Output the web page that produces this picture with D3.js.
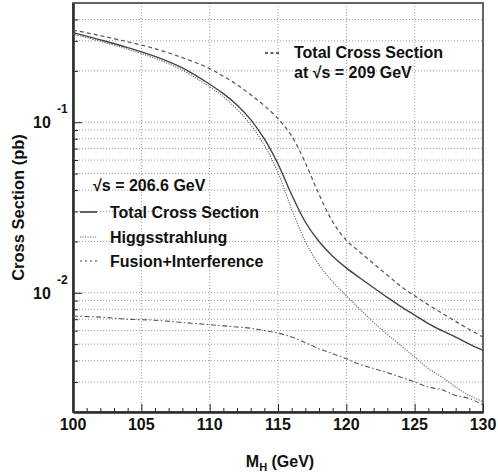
<!DOCTYPE html>
<html>
<head>
<meta charset="utf-8">
<script src="https://cdn.jsdelivr.net/npm/d3@7/dist/d3.min.js"></script>
<style>
  body { margin: 0; background: #fff; }
  text { font-family: "Liberation Sans", Arial, Helvetica, sans-serif; font-weight: bold; fill: #111; }
</style>
</head>
<body>
<script>
'use strict';

//Data =========================================

// Higgs mass points (GeV)
var massH = [100, 102, 104, 106, 108, 110, 111, 112, 113, 114, 115, 116, 117, 118, 119, 120,
             121, 122, 123, 124, 125, 126, 127, 128, 129, 130];

// sqrt(s) = 206.6 GeV, total cross section (pb)
var totalXsec206 = [0.335, 0.304, 0.274, 0.243, 0.208, 0.167, 0.147, 0.126, 0.1035, 0.0798, 0.0569, 0.0376,
                    0.0260, 0.0200, 0.0164, 0.0140, 0.0122, 0.0107, 0.0094, 0.0083, 0.0074, 0.0066,
                    0.0060, 0.0055, 0.0050, 0.0046];

// Higgsstrahlung only
var hzXsec = [0.329, 0.298, 0.268, 0.237, 0.202, 0.161, 0.141, 0.119, 0.0966, 0.0733, 0.0507, 0.0309,
              0.0200, 0.0146, 0.0116, 0.0096, 0.0080, 0.0067, 0.0057, 0.0049, 0.0042, 0.0036,
              0.0032, 0.0028, 0.0025, 0.0023];

// Fusion + interference
var fusionXsec = [0.0073, 0.0072, 0.0070, 0.0069, 0.0067, 0.0065, 0.0064, 0.0063, 0.0062, 0.0060, 0.0058,
                  0.0055, 0.0051, 0.0047, 0.0044, 0.0041, 0.0038, 0.0036, 0.0034, 0.0032, 0.0030,
                  0.0028, 0.0027, 0.0025, 0.0024, 0.0022];

// sqrt(s) = 209 GeV, total cross section
var totalXsec209 = [0.347, 0.322, 0.296, 0.270, 0.239, 0.2065, 0.186, 0.166, 0.145, 0.125, 0.105, 0.083,
                    0.0578, 0.0378, 0.0261, 0.0203, 0.0173, 0.0148, 0.0127, 0.0109, 0.0096, 0.0085,
                    0.0076, 0.0068, 0.0061, 0.0055];

var xTickValues = [100, 105, 110, 115, 120, 125, 130];
var yMajorValues = [0.01, 0.1];
var yMajorLabels = ['-2', '-1'];

//Sizing things.
var width = 498;
var height = 475;
var plotLeft = 73, plotRight = 483, plotTop = 3, plotBottom = 412;

var svg = d3.select('body').append('svg')
    .attr('width', width)
    .attr('height', height);

var x = d3.scaleLinear().domain([100, 130]).range([plotLeft, plotRight]);
var y = d3.scaleLog().domain([0.002, 0.5]).range([plotBottom, plotTop]);

// minor values on the log axis (2..9 x decade)
var yMinorValues = [];
[0.001, 0.01, 0.1].forEach(function (dec) {
  for (var k = 2; k <= 9; k++) {
    var v = +(k * dec).toPrecision(3);
    if (v > 0.002 && v < 0.5) yMinorValues.push(v);
  }
});
var xMinorValues = d3.range(101, 130).filter(function (m) { return m % 5 !== 0; });

// grid lines ===================
var grid = svg.append('g').attr('class', 'grid');

grid.selectAll('line.hgrid')
  .data(yMinorValues.concat(yMajorValues))
  .enter().append('line')
  .attr('x1', plotLeft).attr('x2', plotRight)
  .attr('y1', function (d) { return y(d); })
  .attr('y2', function (d) { return y(d); })
  .style('stroke', '#999')
  .style('stroke-width', 1)
  .style('stroke-dasharray', '1,2');

grid.selectAll('line.vgrid')
  .data([105, 110, 115, 120, 125])
  .enter().append('line')
  .attr('y1', plotTop).attr('y2', plotBottom)
  .attr('x1', function (d) { return x(d); })
  .attr('x2', function (d) { return x(d); })
  .style('stroke', '#999')
  .style('stroke-width', 1)
  .style('stroke-dasharray', '1,2');

// axes (ticks point into the frame)
function styleAxis(g, w) {
  g.selectAll('text').remove();
  g.selectAll('path.domain').style('stroke', '#222').style('stroke-width', w);
  g.selectAll('.tick line').style('stroke', '#222').style('stroke-width', 1);
}

svg.append('g')
  .attr('transform', 'translate(' + plotLeft + ',0)')
  .call(d3.axisLeft(y).tickValues(yMinorValues).tickSize(-5).tickSizeOuter(0).tickFormat(''))
  .call(styleAxis, 2);
svg.append('g')
  .attr('transform', 'translate(' + plotLeft + ',0)')
  .call(d3.axisLeft(y).tickValues(yMajorValues).tickSize(-9).tickSizeOuter(0).tickFormat(''))
  .call(styleAxis, 2);

svg.append('g')
  .attr('transform', 'translate(0,' + plotBottom + ')')
  .call(d3.axisBottom(x).tickValues(xMinorValues).tickSize(-4).tickSizeOuter(0).tickFormat(''))
  .call(styleAxis, 2);
svg.append('g')
  .attr('transform', 'translate(0,' + plotBottom + ')')
  .call(d3.axisBottom(x).tickValues(xTickValues).tickSize(-8).tickSizeOuter(0).tickFormat(''))
  .call(styleAxis, 2);

// top + right frame
svg.append('rect')
  .attr('x', plotLeft).attr('y', plotTop)
  .attr('width', plotRight - plotLeft).attr('height', plotBottom - plotTop)
  .style('fill', 'none')
  .style('stroke', '#333')
  .style('stroke-width', 1.5);

// tick labels
svg.selectAll('text.xlab')
  .data(xTickValues)
  .enter().append('text')
  .attr('x', function (d) { return x(d); })
  .attr('y', 430)
  .attr('text-anchor', 'middle')
  .style('font-size', '16px')
  .text(function (d) { return d; });

yMajorValues.forEach(function (v, i) {
  svg.append('text')
    .attr('x', 33).attr('y', y(v) + 6)
    .style('font-size', '16px')
    .text('10');
  svg.append('text')
    .attr('x', 57).attr('y', y(v) - 9)
    .style('font-size', '12px')
    .text(yMajorLabels[i]);
});

// axis titles
var xTitle = svg.append('text')
  .attr('x', (plotLeft + plotRight) / 2 + 2)
  .attr('y', 467)
  .attr('text-anchor', 'middle')
  .style('font-size', '16px');
xTitle.append('tspan').text('M');
xTitle.append('tspan').attr('dy', 4).style('font-size', '11px').text('H');
xTitle.append('tspan').attr('dy', -4).text(' (GeV)');

svg.append('text')
  .attr('transform', 'translate(24,' + ((plotTop + plotBottom) / 2) + ') rotate(-90)')
  .attr('text-anchor', 'middle')
  .style('font-size', '16.5px')
  .text('Cross Section (pb)');

// curves ======================
var curves = [
  { values: fusionXsec, dash: '5,2.5,1.5,2.5', color: '#555', w: 1.1 },
  { values: hzXsec, dash: '1.2,1.3', color: '#666', w: 1.1 },
  { values: totalXsec209, dash: '4,3', color: '#555', w: 1.2 },
  { values: totalXsec206, dash: null, color: '#444', w: 1.4 }
];

var line = d3.line()
  .x(function (d) { return x(d[0]); })
  .y(function (d) { return y(d[1]); })
  .curve(d3.curveCatmullRom.alpha(0.5));

curves.forEach(function (c) {
  svg.append('path')
    .datum(massH.map(function (m, i) { return [m, c.values[i]]; }))
    .attr('d', line)
    .style('fill', 'none')
    .style('stroke', c.color)
    .style('stroke-width', c.w)
    .style('stroke-dasharray', c.dash);
});

// legends ======================
svg.append('text')
  .attr('x', 93).attr('y', 191)
  .style('font-size', '16px')
  .text('\u221As = 206.6 GeV');

var legendItems = [
  { label: 'Total Cross Section', dash: null, y: 218, ly: 212, color: '#333', w: 1.5 },
  { label: 'Higgsstrahlung', dash: '1.2,1.3', y: 243, ly: 237, color: '#666', w: 1.1 },
  { label: 'Fusion+Interference', dash: '2,3', y: 267, ly: 261, color: '#444', w: 1.1 }
];

legendItems.forEach(function (it) {
  svg.append('line')
    .attr('x1', 80).attr('x2', 97)
    .attr('y1', it.ly).attr('y2', it.ly)
    .style('stroke', it.color)
    .style('stroke-width', it.w)
    .style('stroke-dasharray', it.dash);
  svg.append('text')
    .attr('x', 110).attr('y', it.y)
    .style('font-size', '16px')
    .text(it.label);
});

svg.append('line')
  .attr('x1', 265).attr('x2', 281)
  .attr('y1', 53).attr('y2', 53)
  .style('stroke', '#333')
  .style('stroke-width', 1.3)
  .style('stroke-dasharray', '3,2.5');
svg.append('text')
  .attr('x', 294).attr('y', 58)
  .style('font-size', '16px')
  .text('Total Cross Section');
svg.append('text')
  .attr('x', 294).attr('y', 78)
  .style('font-size', '16px')
  .text('at \u221As = 209 GeV');
</script>
</body>
</html>
